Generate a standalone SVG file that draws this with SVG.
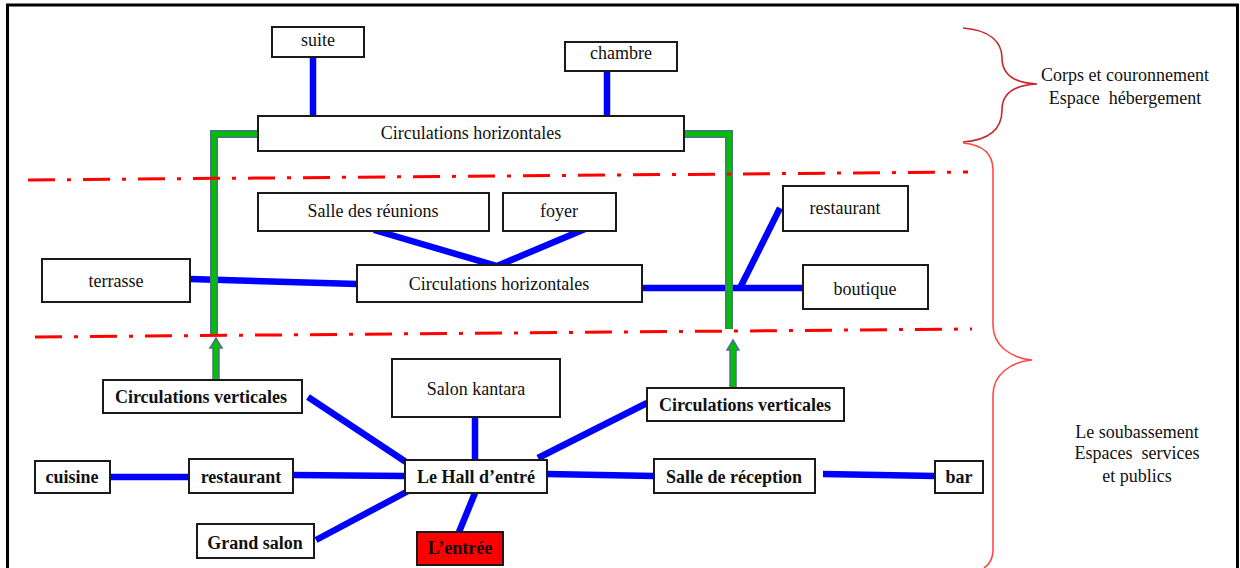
<svg xmlns="http://www.w3.org/2000/svg" width="1240" height="568" viewBox="0 0 1240 568">
<style>
.box{fill:#fff;stroke:#1a1a1a;stroke-width:2}
.t{font-family:"Liberation Serif","Times New Roman",serif;font-size:18px;fill:#111;text-anchor:middle}
.b{font-family:"Liberation Serif","Times New Roman",serif;font-size:18px;font-weight:bold;fill:#111;text-anchor:middle}
.blue{stroke:#0000ff;stroke-width:6.5;fill:none}
.gout{stroke:#4f6f8f;stroke-width:8;fill:none}
.gin{stroke:#00c000;stroke-width:5;fill:none}
.arrow{fill:#00c000;stroke:#4f6f8f;stroke-width:1.5}
.dash{stroke:#ff0000;stroke-width:3;fill:none;stroke-dasharray:27 12 4 12}
.brace1{stroke:#c8282d;stroke-width:1.6;fill:none}
.brace2{stroke:#ff4a4a;stroke-width:1.6;fill:none}
</style>
<rect x="0" y="0" width="1240" height="568" fill="#fff"/>
<path d="M7.5,568 V5 H1237.5 V568" fill="none" stroke="#000" stroke-width="3"/>

<g id="connectors">
  <line class="blue" x1="313" y1="57" x2="313" y2="116"/>
  <line class="blue" x1="607" y1="71" x2="607" y2="116"/>
  <polyline class="blue" points="374,230 497,266 585,229"/>
  <line class="blue" x1="190" y1="279" x2="357" y2="284"/>
  <line class="blue" x1="636" y1="288" x2="803" y2="288"/>
  <line class="blue" x1="740" y1="288" x2="780" y2="208"/>
  <line class="blue" x1="110" y1="477" x2="189" y2="477"/>
  <line class="blue" x1="293" y1="475" x2="405" y2="476"/>
  <line class="blue" x1="308" y1="397" x2="412" y2="466"/>
  <line class="blue" x1="475" y1="417" x2="475" y2="460"/>
  <line class="blue" x1="538" y1="458" x2="647" y2="403"/>
  <line class="blue" x1="547" y1="474" x2="654" y2="476"/>
  <line class="blue" x1="823" y1="474" x2="935" y2="476"/>
  <line class="blue" x1="410" y1="490" x2="316" y2="540"/>
  <line class="blue" x1="475" y1="493" x2="459" y2="532"/>
  <polyline class="gout" points="258,134 214,134 214,336"/>
  <polyline class="gout" points="684,134 729,134 729,329"/>
  <polyline class="gin" points="258,134 214,134 214,336"/>
  <polyline class="gin" points="684,134 729,134 729,329"/>
  <polygon class="arrow" points="216,338 222,348 219,348 219,380 213,380 213,348 210,348"/>
  <polygon class="arrow" points="733,340 739,350 736,350 736,388 730,388 730,350 727,350"/>
  <line class="dash" x1="28" y1="180" x2="968" y2="172"/>
  <line class="dash" x1="35" y1="337" x2="972" y2="329"/>
</g>

<g id="braces">
  <path class="brace1" d="M963,28 C990,30 1002,42 1002,58 C1002,75 1015,83 1037,84 C1015,85 1002,93 1002,110 C1002,128 990,140 963,142"/>
  <path class="brace2" d="M963,143 C985,145 993,155 993,170 L993,325 C993,345 1010,358 1032,360 C1010,362 993,375 993,395 L993,550 C993,558 990,564 984,568"/>
  <text class="t" x="1125" y="81">Corps et couronnement</text>
  <text class="t" x="1125" y="104" xml:space="preserve">Espace  hébergement</text>
  <text class="t" x="1137" y="438">Le soubassement</text>
  <text class="t" x="1137" y="459" xml:space="preserve">Espaces  services</text>
  <text class="t" x="1137" y="482">et publics</text>
</g>

<g id="suite"><rect class="box" x="272" y="27" width="92" height="30"/><text class="t" x="318" y="46">suite</text></g>
<g id="chambre"><rect class="box" x="565" y="42" width="112" height="29"/><text class="t" x="621" y="59">chambre</text></g>
<g id="circ-h-top"><rect class="box" x="258" y="116" width="426" height="35"/><text class="t" x="471" y="139">Circulations horizontales</text></g>
<g id="salle-reunions"><rect class="box" x="258" y="193" width="231" height="38"/><text class="t" x="373" y="217">Salle des réunions</text></g>
<g id="foyer"><rect class="box" x="503" y="193" width="113" height="38"/><text class="t" x="559" y="217">foyer</text></g>
<g id="terrasse"><rect class="box" x="42" y="259" width="148" height="43"/><text class="t" x="116" y="287">terrasse</text></g>
<g id="circ-h-mid"><rect class="box" x="357" y="265" width="285" height="37"/><text class="t" x="499" y="290">Circulations horizontales</text></g>
<g id="restaurant-mid"><rect class="box" x="783" y="186" width="125" height="45"/><text class="t" x="845" y="214">restaurant</text></g>
<g id="boutique"><rect class="box" x="803" y="265" width="125" height="44"/><text class="t" x="865" y="295">boutique</text></g>
<g id="circ-v-left"><rect class="box" x="103" y="380" width="199" height="33"/><text class="b" x="201" y="403">Circulations verticales</text></g>
<g id="salon-kantara"><rect class="box" x="392" y="359" width="168" height="58"/><text class="t" x="476" y="395">Salon kantara</text></g>
<g id="circ-v-right"><rect class="box" x="647" y="388" width="197" height="33"/><text class="b" x="745" y="411">Circulations verticales</text></g>
<g id="cuisine"><rect class="box" x="35" y="461" width="75" height="32"/><text class="b" x="72" y="483">cuisine</text></g>
<g id="restaurant-bas"><rect class="box" x="189" y="459" width="104" height="34"/><text class="b" x="241" y="483">restaurant</text></g>
<g id="hall"><rect class="box" x="405" y="460" width="142" height="33"/><text class="b" x="476" y="483">Le Hall d’entré</text></g>
<g id="salle-reception"><rect class="box" x="654" y="459" width="161" height="34"/><text class="b" x="734" y="483">Salle de réception</text></g>
<g id="bar"><rect class="box" x="935" y="461" width="48" height="32"/><text class="b" x="959" y="483">bar</text></g>
<g id="grand-salon"><rect class="box" x="197" y="524" width="117" height="34"/><text class="b" x="255" y="549">Grand salon</text></g>
<g id="entree"><rect x="417" y="532" width="86" height="33" fill="#ff0000" stroke="#1a1a1a" stroke-width="2"/><text class="b" x="460" y="554">L’entrée</text></g>
</svg>
